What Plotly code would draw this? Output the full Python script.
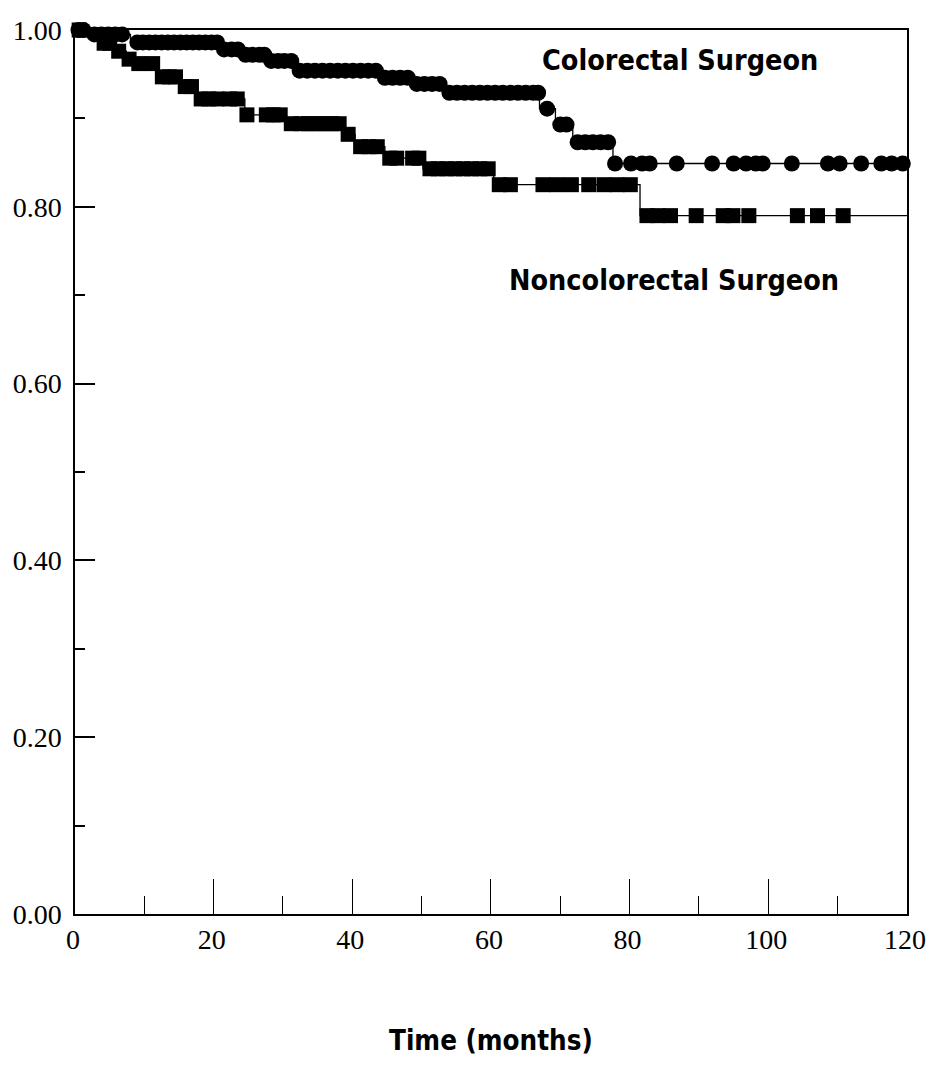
import plotly.graph_objects as go

# ---- data ----
# Kaplan-Meier step points: time of each drop and survival after the drop
crs_step_t = [0, 2.2, 8.0, 20.9, 24.0, 27.7, 31.7, 44.0, 48.6, 53.4, 67.0, 69.3, 71.8, 77.6, 120]
crs_step_s = [1.0, 0.995, 0.986, 0.978, 0.972, 0.965, 0.954, 0.946, 0.939, 0.929, 0.911, 0.893, 0.873, 0.849, 0.849]

ncs_step_t = [0, 3.5, 5.8, 7.4, 8.5, 12.0, 15.3, 17.5, 24.5, 30.3, 39.0, 40.4, 44.7, 50.2, 60.4, 81.5, 120]
ncs_step_s = [1.0, 0.985, 0.976, 0.967, 0.962, 0.947, 0.936, 0.922, 0.904, 0.894, 0.882, 0.868, 0.855, 0.843, 0.825, 0.790, 0.790]

# censoring times (markers)
crs_censor_t = [0.5, 1.2,
                2.8, 3.8, 4.8, 5.8, 6.8,
                9.0, 9.8, 10.7, 11.6, 12.5, 13.4, 14.3, 15.2, 16.1, 17.0, 17.9, 18.8, 19.7, 20.5,
                21.5, 22.6, 23.5,
                24.6, 25.6, 26.6, 27.3,
                28.3, 29.3, 30.2, 31.2,
                32.4, 33.5, 34.6, 35.7, 36.8, 37.9, 39.0, 40.1, 41.2, 42.3, 43.4,
                44.7, 45.8, 46.9, 48.0,
                49.3, 50.4, 51.5, 52.6,
                54.0, 55.1, 56.2, 57.3, 58.4, 59.5, 60.6, 61.7, 62.8, 63.9, 65.0, 66.1, 66.8,
                68.1,
                70.0, 70.9,
                72.5, 73.6, 74.7, 75.8, 76.9,
                77.9, 80.2, 81.8, 82.9, 86.8, 91.9, 95.0, 96.8, 98.2, 99.2, 103.4, 108.6,
                110.3, 113.4, 116.3, 117.8, 119.4]

ncs_censor_t = [0.6,
                4.2, 5.0,
                6.3,
                7.8,
                9.2, 11.2,
                12.6, 13.6, 14.5,
                15.9, 16.8,
                18.2, 19.3, 20.5, 22.3, 23.4,
                24.8, 27.6, 28.6, 29.6,
                31.2, 32.6, 33.7, 34.8, 35.9, 37.0, 38.1,
                39.4,
                41.2, 42.4, 43.6,
                45.4, 46.4, 48.7, 49.6,
                51.2, 52.4, 53.6, 54.8, 56.0, 57.2, 58.4, 59.6,
                61.2, 62.8, 67.5, 69.5, 71.6, 74.1, 76.3, 78.2, 80.1,
                82.5, 84.1, 85.9, 89.6, 93.5, 94.9, 97.2, 104.2, 107.1, 110.8]

x_ticks = [0, 20, 40, 60, 80, 100, 120]
y_ticks = [0.0, 0.2, 0.4, 0.6, 0.8, 1.0]


def surv_at(t, st, ss):
    v = ss[0]
    for tt, s in zip(st, ss):
        if tt <= t:
            v = s
    return v


crs_censor_s = [surv_at(t, crs_step_t, crs_step_s) for t in crs_censor_t]
ncs_censor_s = [surv_at(t, ncs_step_t, ncs_step_s) for t in ncs_censor_t]

fig = go.Figure()

line_style = dict(color="black", width=1.3, shape="hv")

fig.add_trace(go.Scatter(x=ncs_step_t, y=ncs_step_s, mode="lines", line=line_style,
                         showlegend=False, hoverinfo="skip", cliponaxis=False))
fig.add_trace(go.Scatter(x=crs_step_t, y=crs_step_s, mode="lines", line=line_style,
                         showlegend=False, hoverinfo="skip", cliponaxis=False))
fig.add_trace(go.Scatter(x=ncs_censor_t, y=ncs_censor_s, mode="markers",
                         marker=dict(symbol="square", size=15, color="black", line=dict(width=0)),
                         name="Noncolorectal Surgeon", showlegend=False, cliponaxis=False))
fig.add_trace(go.Scatter(x=crs_censor_t, y=crs_censor_s, mode="markers",
                         marker=dict(symbol="circle", size=16, color="black", line=dict(width=0)),
                         name="Colorectal Surgeon", showlegend=False, cliponaxis=False))

sans = "DejaVu Sans Condensed, Liberation Sans Narrow, Liberation Sans, Arial"
label_font = dict(family=sans, size=28.5, color="black", weight=700)
tick_font = dict(family="Liberation Serif, Times New Roman, serif", size=28, color="black")

fig.add_annotation(x=87.3, y=0.966, xref="x", yref="y", text="Colorectal Surgeon",
                   showarrow=False, font=label_font, xanchor="center", yanchor="middle")
fig.add_annotation(x=86.4, y=0.717, xref="x", yref="y", text="Noncolorectal Surgeon",
                   showarrow=False, font=label_font, xanchor="center", yanchor="middle")
fig.add_annotation(x=0.5, y=-0.1425, xref="paper", yref="paper", text="Time (months)",
                   showarrow=False, font=dict(family=sans, size=27.5, color="black", weight=700),
                   xanchor="center", yanchor="middle")

fig.update_layout(
    width=927, height=1071,
    margin=dict(l=75, r=20, t=30, b=157),
    paper_bgcolor="white", plot_bgcolor="white",
    showlegend=False,
)
fig.update_xaxes(
    range=[0, 120.01], tickvals=x_ticks, ticktext=[str(v) for v in x_ticks],
    ticks="inside", ticklen=35, tickwidth=1, tickcolor="black",
    minor=dict(ticks="inside", ticklen=18, tickwidth=1, tickcolor="black", dtick=10, tick0=0),
    showline=True, linecolor="black", linewidth=1.5, mirror=True, automargin=False,
    showgrid=False, zeroline=False, tickfont=tick_font, ticklabelstandoff=0,
    ticklabeloverflow="allow", ticklabelshift=-2,
)
fig.update_yaxes(
    range=[0, 1], tickvals=y_ticks, ticktext=[f"{v:.2f}" for v in y_ticks],
    ticks="inside", ticklen=20, tickwidth=1.5, tickcolor="black",
    minor=dict(ticks="inside", ticklen=10, tickwidth=1.5, tickcolor="black", dtick=0.1, tick0=0),
    showline=True, linecolor="black", linewidth=1.5, mirror=True, automargin=False,
    showgrid=False, zeroline=False, tickfont=tick_font, ticklabelstandoff=6,
    ticklabeloverflow="allow",
)

# remove the default page margin so the 927x1071 figure fills the window exactly
fig.write_html("out.html", config={"displayModeBar": False},
               post_script="document.body.style.margin='0';document.body.style.overflow='hidden';")
